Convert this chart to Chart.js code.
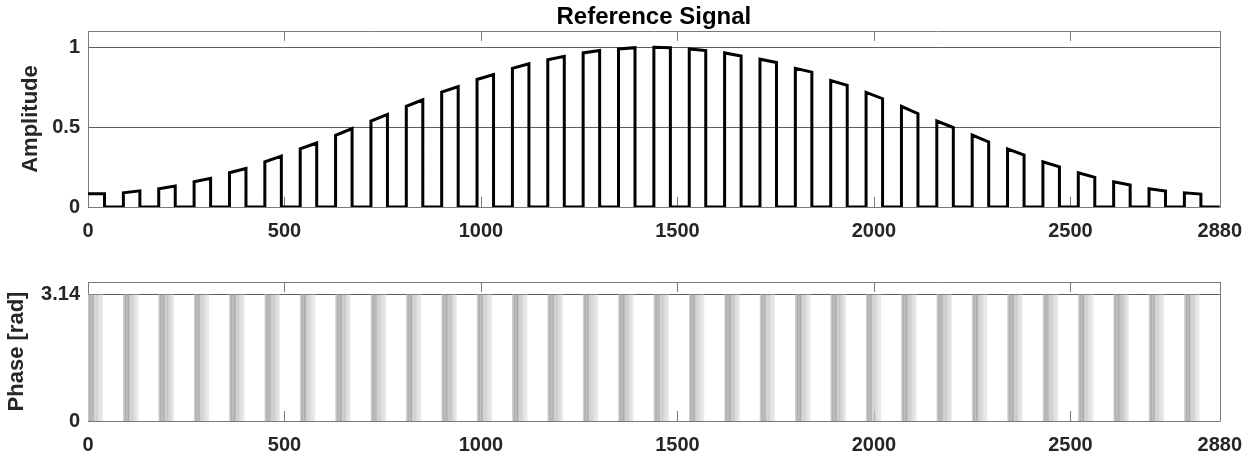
<!DOCTYPE html>
<html>
<head>
<meta charset="utf-8">
<script src="https://cdn.jsdelivr.net/npm/chart.js@4"></script>
<style>
  html, body { margin: 0; padding: 0; background: #ffffff; }
  #wrap { position: relative; width: 1254px; height: 457px; overflow: hidden; }
  #topBox { position: absolute; left: 0; top: 0; width: 1254px; height: 250px; }
  #botBox { position: absolute; left: 0; top: 250px; width: 1254px; height: 207px; }
</style>
</head>
<body>
<div id="wrap">
  <div id="topBox"><canvas id="ampChart" width="1254" height="250"></canvas></div>
  <div id="botBox"><canvas id="phaseChart" width="1254" height="207"></canvas></div>
</div>
<script>
// ---------------- data ----------------
const chartTitle = 'Reference Signal';
const ampLabel = 'Amplitude';
const phaseLabel = 'Phase [rad]';
const xMin = 0, xMax = 2880;
const xTicks = [0, 500, 1000, 1500, 2000, 2500, 2880];
const ampTicks = [0, 0.5, 1];
const ampTickLabels = ['0', '0.5', '1'];
const ampMax = 1.1;
const phaseTicks = [0, Math.PI];
const phaseTickLabels = ['0', '3.14'];
const phaseMax = 1.1 * Math.PI;

// pulse start positions (samples)
const pulseStarts = [0, 90, 180, 270, 360, 450, 540, 630, 720, 810, 900, 990, 1080, 1170, 1260, 1350,
                     1440, 1530, 1620, 1710, 1800, 1890, 1980, 2070, 2160, 2250, 2340, 2430, 2520, 2610, 2700, 2790];
const pulseWidth = 42;
// amplitude at the start / end of each pulse top
const ampStart = [0.083, 0.089, 0.114, 0.158, 0.214, 0.282, 0.363, 0.448, 0.537, 0.629, 0.718, 0.797, 0.867, 0.920, 0.963, 0.988,
                  0.998, 0.988, 0.963, 0.924, 0.867, 0.790, 0.716, 0.629, 0.537, 0.450, 0.363, 0.282, 0.214, 0.158, 0.114, 0.089];
const ampEnd   = [0.083, 0.101, 0.131, 0.179, 0.241, 0.318, 0.400, 0.490, 0.579, 0.670, 0.753, 0.828, 0.895, 0.942, 0.978, 0.996,
                  0.996, 0.978, 0.944, 0.903, 0.843, 0.760, 0.677, 0.583, 0.496, 0.407, 0.324, 0.251, 0.185, 0.137, 0.100, 0.081];

// phase jumps (0 <-> pi) inside each pulse: offsets from pulse start and their grey shade
const phaseOffsets = [0.5, 2, 3.5, 5, 6.5, 8, 9.5, 11, 13, 15, 17.5, 20, 22.5, 25, 27.5, 30, 32.5, 35, 37];
const phaseShades  = ['#d6d6d6', '#c8c8c8', '#bcbcbc', '#b0b0b0', '#a6a6a6', '#bababa', '#c2c2c2', '#b2b2b2', '#a2a2a2',
                      '#b6b6b6', '#c6c6c6', '#cecece', '#c2c2c2', '#cdcdcd', '#d6d6d6', '#dadada', '#dedede', '#e4e4e4', '#e8e8e8'];

// ---------------- build library data ----------------
const ampPoints = [];
pulseStarts.forEach((s, k) => {
  if (k > 0) ampPoints.push({ x: s, y: 0 });
  ampPoints.push({ x: s, y: ampStart[k] });
  ampPoints.push({ x: s + pulseWidth, y: ampEnd[k] });
  ampPoints.push({ x: s + pulseWidth, y: 0 });
});
ampPoints.push({ x: xMax, y: 0 });

const phasePoints = [];
pulseStarts.forEach((s) => {
  phaseOffsets.forEach((o, i) => {
    phasePoints.push({ x: s + o, y: 0, c: phaseShades[i] });
    phasePoints.push({ x: s + o, y: Math.PI, c: phaseShades[i] });
    phasePoints.push({ x: s + o, y: null, c: phaseShades[i] });
  });
});

// ---------------- styling ----------------
const FONT = "'Liberation Sans', Arial, Helvetica, sans-serif";
const TXT = '#262626';
const BOX = '#7a7a7a';
const GRID = '#5e5e5e';

function framePlugin(cfg) {
  return {
    id: 'frame_' + cfg.name,
    beforeDatasetsDraw(chart) {
      const { ctx, chartArea } = chart;
      const { left, right, top, bottom } = chartArea;
      const x = chart.scales.x;
      ctx.save();
      ctx.strokeStyle = BOX;
      ctx.lineWidth = 1;
      ctx.beginPath();
      ctx.rect(Math.round(left) + 0.5, Math.round(top) + 0.5, Math.round(right - left), Math.round(bottom - top));
      ctx.stroke();
      ctx.beginPath();
      xTicks.forEach(v => {
        const px = Math.round(x.getPixelForValue(v)) + 0.5;
        ctx.moveTo(px, bottom); ctx.lineTo(px, bottom - 10);
        ctx.moveTo(px, top); ctx.lineTo(px, top + 10);
      });
      ctx.stroke();
      ctx.restore();
    },
    afterDraw(chart) {
      const { ctx, chartArea } = chart;
      const { left, right, top, bottom } = chartArea;
      ctx.save();
      ctx.fillStyle = TXT;
      ctx.textAlign = 'center';
      ctx.textBaseline = 'middle';
      if (cfg.title) {
        ctx.fillStyle = '#000000';
        ctx.font = 'bold 24px ' + FONT;
        ctx.fillText(cfg.title, (left + right) / 2, 17);
        ctx.fillStyle = TXT;
      }
      ctx.font = 'bold 22px ' + FONT;
      ctx.translate(cfg.labelX, (top + bottom) / 2);
      ctx.rotate(-Math.PI / 2);
      ctx.fillText(cfg.label, 0, 0);
      ctx.restore();
    }
  };
}

function makeOptions(yMax, yTicks, yLabels, padTop, xHeight) {
  return {
    responsive: false,
    animation: false,
    devicePixelRatio: 1,
    layout: { padding: { top: padTop, right: 33, left: 0, bottom: 0 } },
    plugins: { legend: { display: false }, tooltip: { enabled: false }, title: { display: false } },
    scales: {
      x: {
        type: 'linear', min: xMin, max: xMax,
        afterBuildTicks: s => { s.ticks = xTicks.map(v => ({ value: v })); },
        afterFit: s => { s.height = xHeight; },
        grid: { display: false, drawTicks: false },
        border: { display: false },
        ticks: {
          autoSkip: false, maxRotation: 0, padding: 12, color: TXT,
          font: { family: FONT, size: 20, weight: 'bold' },
          callback: v => String(v)
        }
      },
      y: {
        type: 'linear', min: 0, max: yMax,
        afterBuildTicks: s => { s.ticks = yTicks.map(v => ({ value: v })); },
        afterFit: s => { s.width = 88; },
        grid: { display: true, drawTicks: false, color: GRID, lineWidth: 1 },
        border: { display: false },
        ticks: {
          autoSkip: false, padding: 8, color: TXT,
          font: { family: FONT, size: 20, weight: 'bold' },
          callback: (v) => { const i = yTicks.findIndex(t => Math.abs(t - v) < 1e-9); return i >= 0 ? yLabels[i] : ''; }
        }
      }
    }
  };
}

new Chart(document.getElementById('ampChart'), {
  type: 'line',
  data: {
    datasets: [{
      data: ampPoints,
      borderColor: '#000000',
      borderWidth: 3,
      pointRadius: 0,
      tension: 0,
      borderJoinStyle: 'miter',
      fill: false
    }]
  },
  options: makeOptions(ampMax, ampTicks, ampTickLabels, 31, 43),
  plugins: [framePlugin({ name: 'amp', title: chartTitle, label: ampLabel, labelX: 31 })]
});

new Chart(document.getElementById('phaseChart'), {
  type: 'line',
  data: {
    datasets: [{
      data: phasePoints,
      borderColor: '#c0c0c0',
      borderWidth: 1,
      pointRadius: 0,
      tension: 0,
      spanGaps: false,
      fill: false,
      segment: {
        borderColor: ctx => (phasePoints[ctx.p0DataIndex] || {}).c || '#c0c0c0'
      }
    }]
  },
  options: makeOptions(phaseMax, phaseTicks, phaseTickLabels, 32, 36),
  plugins: [framePlugin({ name: 'phase', label: phaseLabel, labelX: 17 })]
});
</script>
</body>
</html>
